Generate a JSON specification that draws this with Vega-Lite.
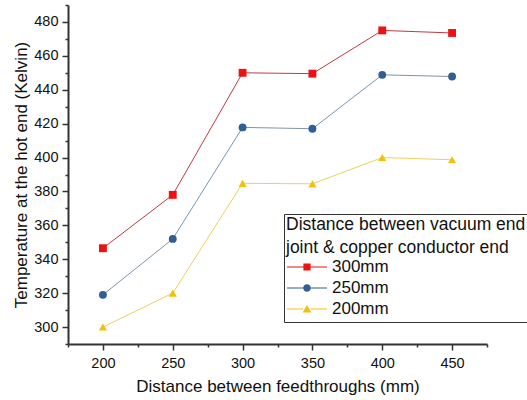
{
  "$schema": "https://vega.github.io/schema/vega-lite/v6.json",
  "width": 419,
  "height": 339,
  "autosize": {"type": "none"},
  "padding": {"left": 68, "top": 5, "right": 40, "bottom": 56},
  "background": "white",
  "config": {
    "font": "Liberation Sans",
    "view": {"stroke": null},
    "axis": {
      "domainColor": "#333333",
      "domainWidth": 2,
      "tickColor": "#333333",
      "tickWidth": 1.5,
      "labelFontSize": 14.5,
      "labelColor": "#111111",
      "labelPadding": 4,
      "titleFontSize": 17,
      "titleFontWeight": "normal",
      "titleColor": "#111111",
      "grid": false
    }
  },
  "data": {
    "values": [
      {"distance": 200, "temp": 346.5, "series": "300mm"},
      {"distance": 250, "temp": 378, "series": "300mm"},
      {"distance": 300, "temp": 450, "series": "300mm"},
      {"distance": 350, "temp": 449.5, "series": "300mm"},
      {"distance": 400, "temp": 475, "series": "300mm"},
      {"distance": 450, "temp": 473.5, "series": "300mm"},
      {"distance": 200, "temp": 319, "series": "250mm"},
      {"distance": 250, "temp": 352, "series": "250mm"},
      {"distance": 300, "temp": 417.8, "series": "250mm"},
      {"distance": 350, "temp": 417, "series": "250mm"},
      {"distance": 400, "temp": 448.8, "series": "250mm"},
      {"distance": 450, "temp": 447.8, "series": "250mm"},
      {"distance": 200, "temp": 300, "series": "200mm"},
      {"distance": 250, "temp": 320, "series": "200mm"},
      {"distance": 300, "temp": 384.8, "series": "200mm"},
      {"distance": 350, "temp": 384.5, "series": "200mm"},
      {"distance": 400, "temp": 400, "series": "200mm"},
      {"distance": 450, "temp": 398.7, "series": "200mm"}
    ]
  },
  "encoding": {
    "x": {
      "field": "distance",
      "type": "quantitative",
      "scale": {"domain": [175, 475], "nice": false, "zero": false},
      "axis": {
        "title": "Distance between feedthroughs (mm)",
        "values": [175, 200, 225, 250, 275, 300, 325, 350, 375, 400, 425, 450, 475],
        "labelExpr": "datum.value % 50 == 0 && datum.value >= 200 && datum.value <= 450 ? datum.label : ''",
        "tickSize": {"condition": {"test": "datum.value % 50 == 0", "value": 6}, "value": 3},
        "labelPadding": 6,
        "titlePadding": 9,
        "labelFlush": false,
        "labelOverlap": false
      }
    },
    "y": {
      "field": "temp",
      "type": "quantitative",
      "scale": {"domain": [290, 490], "nice": false, "zero": false},
      "axis": {
        "title": "Temperature at the hot end (Kelvin)",
        "values": [290, 300, 310, 320, 330, 340, 350, 360, 370, 380, 390, 400, 410, 420, 430, 440, 450, 460, 470, 480, 490],
        "labelExpr": "datum.value % 20 == 0 && datum.value >= 300 && datum.value <= 480 ? datum.label : ''",
        "tickSize": {"condition": {"test": "datum.value % 20 == 0", "value": 6}, "value": 3},
        "titlePadding": 3,
        "labelFlush": false,
        "labelOverlap": false
      }
    }
  },
  "layer": [
    {
      "transform": [{"filter": "datum.series == '300mm'"}],
      "mark": {"type": "line", "strokeWidth": 1, "color": "#bf3a44"},
      "encoding": {}
    },
    {
      "transform": [{"filter": "datum.series == '250mm'"}],
      "mark": {"type": "line", "strokeWidth": 1, "color": "#7d95ab"},
      "encoding": {}
    },
    {
      "transform": [{"filter": "datum.series == '200mm'"}],
      "mark": {"type": "line", "strokeWidth": 1, "color": "#e9d45c"},
      "encoding": {}
    },
    {
      "transform": [{"filter": "datum.series == '300mm'"}],
      "mark": {"type": "point", "shape": "square", "filled": true, "opacity": 1, "size": 62, "color": "#ee1111"},
      "encoding": {}
    },
    {
      "transform": [{"filter": "datum.series == '250mm'"}],
      "mark": {"type": "point", "shape": "circle", "filled": true, "opacity": 1, "size": 62, "color": "#2f5f95"},
      "encoding": {}
    },
    {
      "transform": [{"filter": "datum.series == '200mm'"}],
      "mark": {"type": "point", "shape": "triangle-up", "filled": true, "opacity": 1, "size": 68, "color": "#f2c10d"},
      "encoding": {}
    },
    {
      "mark": {"type": "point", "filled": true, "size": 0},
      "encoding": {
        "color": {
          "field": "series",
          "type": "nominal",
          "scale": {"domain": ["300mm", "250mm", "200mm"], "range": ["#ee1111", "#2f5f95", "#f2c10d"]},
          "legend": {
            "orient": "none",
            "legendX": 216,
            "legendY": 209,
            "title": ["Distance between vacuum end", "joint & copper conductor end"],
            "titleFontSize": 17.5,
            "titleFontWeight": "normal",
            "titleColor": "#111111",
            "titleLineHeight": 23,
            "titlePadding": 0,
            "titleLimit": 600,
            "labelFontSize": 17,
            "labelColor": "#111111",
            "labelOffset": 4,
            "symbolOpacity": 1,
            "symbolSize": 1600,
            "clipHeight": 21,
            "rowPadding": 0,
            "strokeColor": "#333333",
            "fillColor": "white",
            "padding": 2
          }
        },
        "shape": {
          "field": "series",
          "type": "nominal",
          "scale": {
            "domain": ["300mm", "250mm", "200mm"],
            "range": [
              "M-1,-0.03H-0.18V0.03H-1Z M0.18,-0.03H1V0.03H0.18Z M-0.18,-0.18H0.18V0.18H-0.18Z",
              "M-1,-0.03H-0.19V0.03H-1Z M0.19,-0.03H1V0.03H0.19Z M-0.19,0A0.19,0.19 0 1,1 0.19,0A0.19,0.19 0 1,1 -0.19,0Z",
              "M-1,-0.03H-0.2V0.03H-1Z M0.2,-0.03H1V0.03H0.2Z M0,-0.2L0.22,0.17H-0.22Z"
            ]
          },
          "legend": {
            "orient": "none",
            "legendX": 216,
            "legendY": 209,
            "title": ["Distance between vacuum end", "joint & copper conductor end"],
            "titleFontSize": 17.5,
            "titleFontWeight": "normal",
            "titleColor": "#111111",
            "titleLineHeight": 23,
            "titlePadding": 0,
            "titleLimit": 600,
            "labelFontSize": 17,
            "labelColor": "#111111",
            "labelOffset": 4,
            "symbolOpacity": 1,
            "symbolSize": 1600,
            "clipHeight": 21,
            "rowPadding": 0,
            "strokeColor": "#333333",
            "fillColor": "white",
            "padding": 2
          }
        }
      }
    }
  ]
}
